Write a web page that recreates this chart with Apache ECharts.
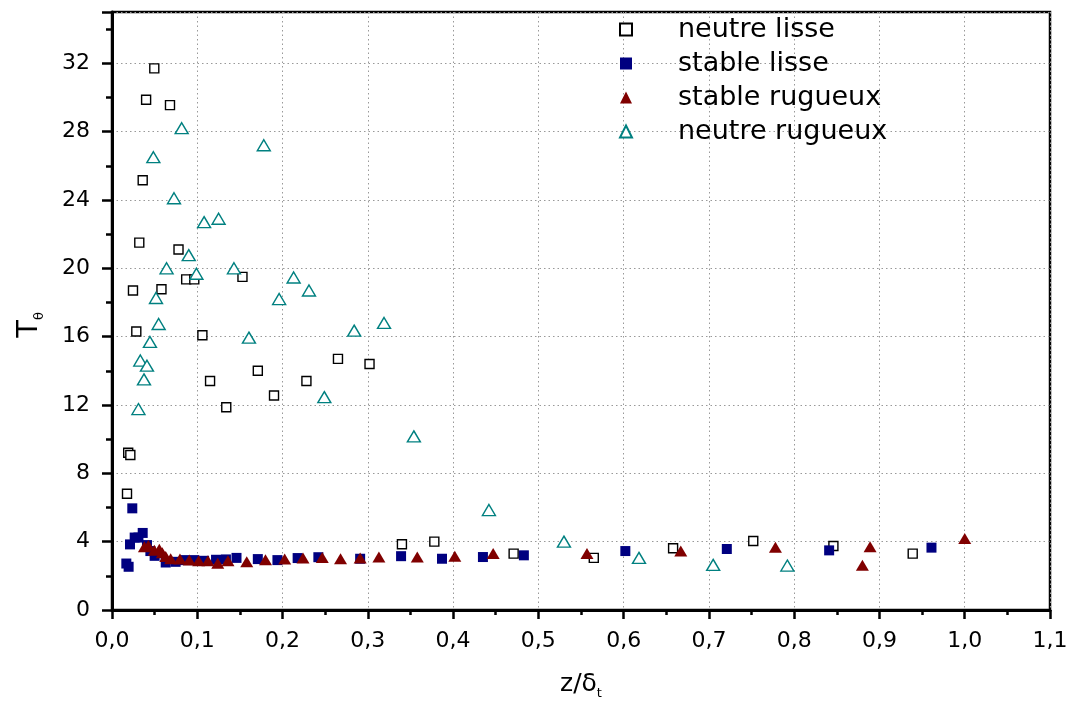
<!DOCTYPE html>
<html><head><meta charset="utf-8">
<script src="https://cdn.jsdelivr.net/npm/echarts@6/dist/echarts.min.js"></script>
<style>html,body{margin:0;padding:0;background:#fff}#c{width:1069px;height:704px}</style>
</head><body><div id="c"></div>
<script>
const seriesNames = ['neutre lisse', 'stable lisse', 'stable rugueux', 'neutre rugueux'];
const xTicks = [0,0.1,0.2,0.3,0.4,0.5,0.6,0.7,0.8,0.9,1.0,1.1];
const yTicks = [0,4,8,12,16,20,24,28,32];

const neutreLisseX = [0.0176,0.019,0.0215,0.0246,0.0285,0.032,0.036,0.040,0.0496,0.058,0.068,0.078,0.087,0.0965,0.106,0.115,0.134,0.153,0.171,0.190,0.228,0.265,0.302,0.340,0.378,0.471,0.565,0.658,0.752,0.846,0.939];
const neutreLisseY = [6.8,9.2,9.07,18.7,16.3,21.5,25.15,29.86,31.7,18.77,29.55,21.1,19.35,19.35,16.08,13.4,11.87,19.5,14.0,12.55,13.4,14.7,14.4,3.85,4.0,3.3,3.05,3.61,4.04,3.75,3.3];

const stableLisseX = [0.0168,0.0195,0.0211,0.0238,0.0266,0.031,0.036,0.041,0.045,0.050,0.063,0.0746,0.085,0.0965,0.108,0.122,0.1336,0.146,0.171,0.194,0.2177,0.242,0.291,0.339,0.387,0.435,0.483,0.602,0.721,0.841,0.961];
const stableLisseY = [2.72,2.53,3.84,5.95,4.24,4.24,4.51,3.8,3.45,3.17,2.78,2.82,2.92,2.92,2.88,2.94,2.96,3.05,2.98,2.92,3.04,3.09,3.0,3.15,3.0,3.1,3.2,3.45,3.57,3.49,3.65];

const stableRugueuxX = [0.038,0.0426,0.0496,0.0555,0.059,0.063,0.0688,0.0797,0.0906,0.1016,0.1125,0.124,0.136,0.158,0.180,0.2025,0.224,0.2466,0.268,0.291,0.313,0.358,0.402,0.447,0.557,0.667,0.778,0.880,0.889,1.0];
const stableRugueuxY = [3.70,3.78,3.5,3.56,3.35,3.13,3.0,2.98,2.92,2.88,2.88,2.74,2.88,2.82,2.94,2.98,3.05,3.08,3.0,3.05,3.1,3.1,3.15,3.3,3.3,3.45,3.67,2.62,3.7,4.19];

const neutreRugueuxX = [0.031,0.0332,0.0375,0.041,0.0445,0.0485,0.0516,0.0547,0.064,0.0727,0.0817,0.090,0.099,0.108,0.125,0.143,0.1606,0.178,0.196,0.213,0.231,0.249,0.284,0.319,0.354,0.442,0.530,0.618,0.705,0.792];
const neutreRugueuxY = [11.76,14.6,13.5,14.3,15.69,26.5,18.26,16.74,20.0,24.1,28.2,20.77,19.68,22.7,22.9,20.0,15.94,27.2,18.2,19.46,18.7,12.46,16.35,16.8,10.16,5.85,4.0,3.05,2.64,2.6];

function pairs(xs, ys){ return xs.map((x,i)=>[x, ys[i]]); }

const FONT = '"DejaVu Sans", "Liberation Sans", Arial, sans-serif';
const chart = echarts.init(document.getElementById('c'), null, {renderer:'canvas'});
chart.setOption({
  animation: false,
  backgroundColor: '#fff',
  grid: {left:112, right:19, top:12, bottom:94, containLabel:false, outerBoundsMode:'none',
         show:true, borderColor:'#000', borderWidth:2.5, backgroundColor:'transparent'},
  legend: {
    orient:'vertical', left:619, top:16, padding:0, itemGap:7,
    itemWidth:12, itemHeight:12,
    data: seriesNames,
    formatter: n => '{g|}{n|' + n + '}',
    textStyle: {fontFamily:FONT, color:'#000', rich:{g:{width:41}, n:{fontSize:27, lineHeight:27, fontFamily:FONT, color:'#000'}}}
  },
  xAxis: {
    type:'value', min:0, max:1.1, interval:0.1,
    name:'{a|z/δ}{b|t}', nameLocation:'middle', nameGap:58,
    nameTextStyle:{fontFamily:FONT, color:'#000', rich:{a:{fontSize:25, fontFamily:FONT, color:'#000', lineHeight:32}, b:{fontSize:13, fontFamily:FONT, color:'#000', lineHeight:8, verticalAlign:'bottom'}}},
    axisLine:{onZero:false, lineStyle:{color:'#000', width:3}},
    axisTick:{inside:false, length:9, lineStyle:{color:'#000', width:2.5}},
    minorTick:{show:true, splitNumber:2, length:5, lineStyle:{color:'#000', width:2.5}},
    axisLabel:{margin:20, fontSize:22, fontFamily:FONT, color:'#000', formatter: v => (Math.round(v*10)/10).toFixed(1).replace('.', ',')},
    splitLine:{show:true, lineStyle:{color:'#999', type:[1.5,3], width:1}}
  },
  yAxis: {
    type:'value', min:0, max:35, interval:4,
    name:'{a|T}{b|θ}', nameLocation:'middle', nameGap:66, nameRotate:90,
    nameTextStyle:{fontFamily:FONT, color:'#000', padding:[0,28,0,0], rich:{a:{fontSize:29, fontFamily:FONT, color:'#000', lineHeight:34}, b:{fontSize:13, fontFamily:FONT, color:'#000', lineHeight:8, verticalAlign:'bottom'}}},
    axisLine:{onZero:false, lineStyle:{color:'#000', width:3}},
    axisTick:{inside:false, length:10, lineStyle:{color:'#000', width:2.5}},
    minorTick:{show:true, splitNumber:2, length:6, lineStyle:{color:'#000', width:2.5}},
    axisLabel:{margin:22, fontSize:22, fontFamily:FONT, color:'#000', showMaxLabel:false},
    splitLine:{show:true, lineStyle:{color:'#999', type:[1.5,3], width:1}}
  },
  series: [
    {name:seriesNames[0], type:'scatter', symbol:'rect', symbolSize:9, data:pairs(neutreLisseX, neutreLisseY),
     itemStyle:{color:'#fff', borderColor:'#000', borderWidth:1.4, opacity:1}},
    {name:seriesNames[1], type:'scatter', symbol:'rect', symbolSize:10, data:pairs(stableLisseX, stableLisseY),
     itemStyle:{color:'#000080', opacity:1}},
    {name:seriesNames[2], type:'scatter', symbol:'triangle', symbolSize:[13,11], data:pairs(stableRugueuxX, stableRugueuxY),
     itemStyle:{color:'#800000', opacity:1}},
    {name:seriesNames[3], type:'scatter', symbol:'triangle', symbolSize:[13,11], data:pairs(neutreRugueuxX, neutreRugueuxY),
     itemStyle:{color:'#fff', borderColor:'#008080', borderWidth:1.4, opacity:1}}
  ]
});
</script></body></html>
